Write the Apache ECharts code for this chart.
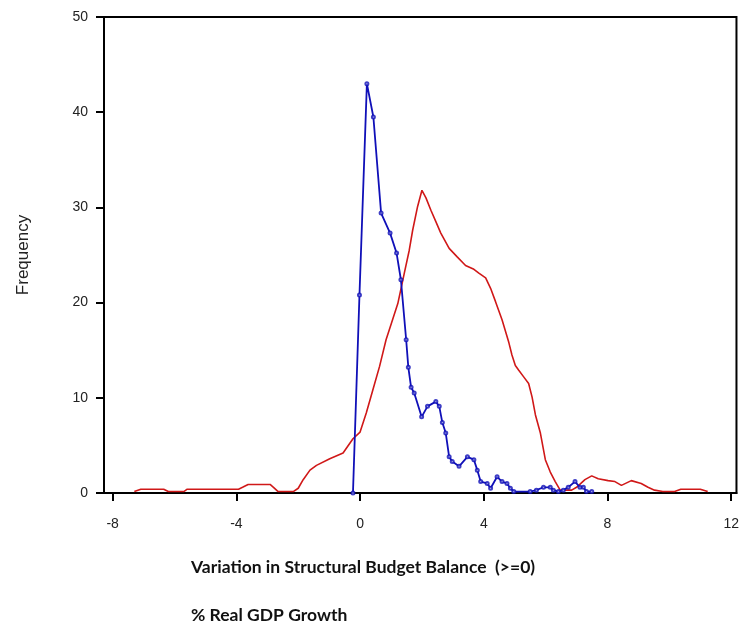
<!DOCTYPE html>
<html>
<head>
<meta charset="utf-8">
<script src="https://cdn.jsdelivr.net/npm/echarts@6/dist/echarts.min.js"></script>
<style>html,body{margin:0;padding:0;background:#fff;}#c{width:742px;height:629px;}</style>
</head>
<body>
<div id="c"></div>
<script>
// Tick values
var xTicks = [-8, -4, 0, 4, 8, 12];
var yTicks = [0, 10, 20, 30, 40, 50];

// Series: Variation in Structural Budget Balance (>=0)
var blueX = [-0.23, -0.02, 0.22, 0.43, 0.68, 0.97, 1.18, 1.32, 1.49, 1.56, 1.65, 1.75, 1.99, 2.18, 2.45, 2.56, 2.66, 2.77, 2.88, 2.98, 3.2, 3.47, 3.68, 3.79, 3.9, 4.11, 4.22, 4.43, 4.59, 4.75, 4.86, 4.97, 5.5, 5.7, 5.93, 6.15, 6.25, 6.41, 6.57, 6.73, 6.95, 7.11, 7.22, 7.32, 7.49];
var blueY = [0, 20.8, 43, 39.5, 29.4, 27.3, 25.2, 22.4, 16.1, 13.2, 11.1, 10.5, 8.0, 9.1, 9.6, 9.1, 7.4, 6.3, 3.8, 3.3, 2.8, 3.8, 3.5, 2.4, 1.2, 1.0, 0.5, 1.7, 1.2, 1.0, 0.5, 0.15, 0.15, 0.3, 0.6, 0.6, 0.3, 0.15, 0.3, 0.6, 1.2, 0.6, 0.6, 0.15, 0.15];

// Series: % Real GDP Growth
var redX = [-7.3, -7.09, -6.35, -6.2, -5.7, -5.59, -3.93, -3.8, -3.62, -2.91, -2.8, -2.65, -2.16, -2.0, -1.84, -1.62, -1.41, -0.98, -0.55, -0.23, 0, 0.2, 0.41, 0.63, 0.84, 1.05, 1.22, 1.43, 1.59, 1.7, 1.86, 2.0, 2.13, 2.29, 2.45, 2.61, 2.88, 3.14, 3.41, 3.68, 3.84, 4.06, 4.22, 4.38, 4.59, 4.81, 4.91, 5.02, 5.13, 5.29, 5.45, 5.56, 5.67, 5.83, 5.99, 6.15, 6.31, 6.47, 6.84, 7.0, 7.27, 7.49, 7.7, 8.02, 8.24, 8.45, 8.77, 9.09, 9.31, 9.52, 9.79, 10.17, 10.37, 11.0, 11.24];
var redY = [0.15, 0.4, 0.4, 0.15, 0.15, 0.4, 0.4, 0.6, 0.9, 0.9, 0.6, 0.15, 0.15, 0.5, 1.4, 2.4, 2.9, 3.6, 4.2, 5.7, 6.4, 8.4, 10.8, 13.3, 16.1, 18.2, 19.9, 23.1, 25.5, 27.6, 30.1, 31.8, 31.0, 29.7, 28.5, 27.3, 25.7, 24.8, 23.9, 23.5, 23.1, 22.6, 21.5, 20.1, 18.2, 15.8, 14.5, 13.4, 12.9, 12.2, 11.5, 10.1, 8.2, 6.3, 3.5, 2.2, 1.2, 0.3, 0.3, 0.6, 1.4, 1.8, 1.5, 1.3, 1.2, 0.8, 1.3, 1.0, 0.6, 0.3, 0.15, 0.15, 0.4, 0.4, 0.15];

var seriesNames = ['Variation in Structural Budget Balance  (>=0)', '% Real GDP Growth'];
var yName = 'Frequency';

function zip(xs, ys) { return xs.map(function (x, i) { return [x, ys[i]]; }); }

var chart = echarts.init(document.getElementById('c'));
chart.setOption({
  animation: false,
  backgroundColor: '#fff',
  grid: { left: 104, top: 17, right: 4.5, bottom: 136, show: true, borderColor: '#000', borderWidth: 2, backgroundColor: 'transparent' },
  xAxis: {
    type: 'value', min: -8.28, max: 12.17,
    axisLine: { show: true, onZero: false, lineStyle: { color: '#000', width: 2 } },
    axisTick: { show: true, length: 8, lineStyle: { color: '#000', width: 2 }, customValues: xTicks },
    axisLabel: { customValues: xTicks, color: '#222', fontFamily: 'Liberation Sans', fontSize: 14, margin: 24 },
    splitLine: { show: false }
  },
  yAxis: {
    type: 'value', min: 0, max: 50, interval: 10,
    name: yName, nameLocation: 'middle', nameGap: 72, nameRotate: 90,
    nameTextStyle: { color: '#222', fontFamily: 'Liberation Sans', fontSize: 17 },
    axisLine: { show: true, onZero: false, lineStyle: { color: '#000', width: 2 } },
    axisTick: { show: true, length: 8, lineStyle: { color: '#000', width: 2 } },
    axisLabel: { color: '#222', fontFamily: 'Liberation Sans', fontSize: 14, margin: 16 },
    splitLine: { show: false }
  },
  series: [
    {
      name: seriesNames[1], type: 'line', data: zip(redX, redY),
      showSymbol: false, symbol: 'none',
      lineStyle: { color: '#d01818', width: 1.6 }, z: 2
    },
    {
      name: seriesNames[0], type: 'line', data: zip(blueX, blueY),
      showSymbol: false, symbol: 'none',
      lineStyle: { color: '#1010b8', width: 1.8 }, z: 3
    },
    {
      name: seriesNames[0] + ' points', type: 'scatter', data: zip(blueX, blueY),
      symbol: 'emptyCircle', symbolSize: 3,
      itemStyle: { color: '#1010b8', borderColor: '#1010b8', borderWidth: 0.9 }, z: 4
    }
  ],
  graphic: [
    { type: 'text', x: 191, y: 567, style: { text: seriesNames[0], font: 'bold 17.5px Lato', fill: '#111', verticalAlign: 'middle' } },
    { type: 'text', x: 191, y: 615, style: { text: seriesNames[1], font: 'bold 17.5px Lato', fill: '#111', verticalAlign: 'middle' } }
  ]
});
</script>
</body>
</html>
